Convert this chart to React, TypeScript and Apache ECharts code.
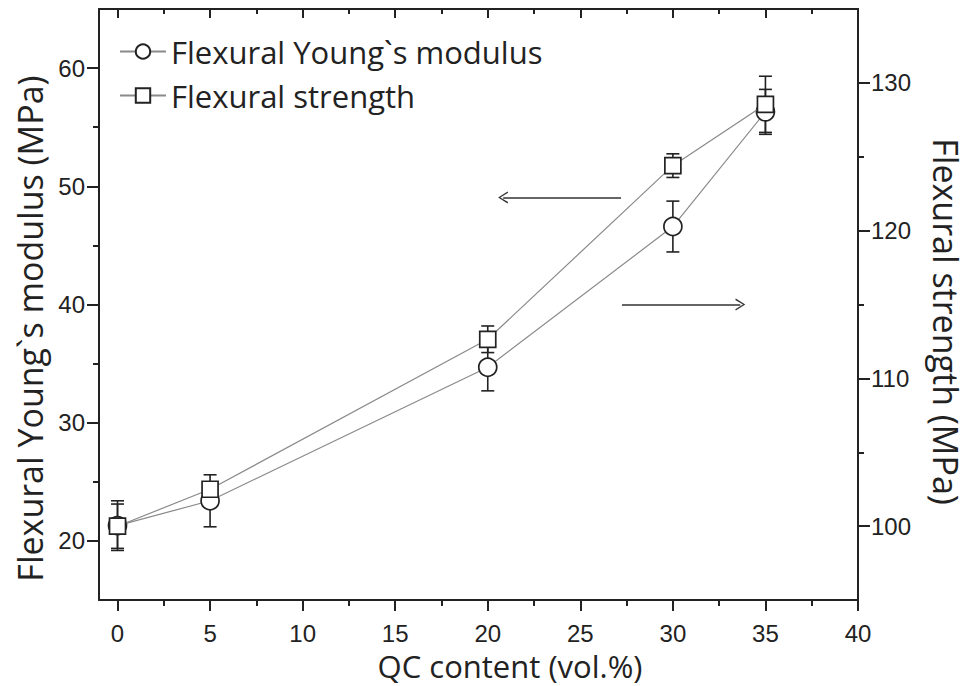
import React, { useEffect, useRef } from "react";
import * as echarts from "echarts";

// ---- data ----
const qcContent = [0, 5, 20, 30, 35];
const youngModulus = [21.3, 23.4, 34.7, 46.6, 56.3];
const youngModulusErr = [2.1, 2.2, 2.0, 2.15, 1.9];
const flexStrength = [100.0, 102.5, 112.65, 124.4, 128.55];
const flexStrengthErr = [1.5, 0.5, 0.9, 0.8, 1.9];

const xMajorTicks = [0, 5, 10, 15, 20, 25, 30, 35, 40];
const xMinorTicks = [2.5, 7.5, 12.5, 17.5, 22.5, 27.5, 32.5, 37.5];
const yLeftMajorTicks = [20, 30, 40, 50, 60];
const yLeftMinorTicks = [25, 35, 45, 55];
const yRightMajorTicks = [100, 110, 120, 130];
const yRightMinorTicks = [105, 115, 125];

// arrows (data coordinates on the left axis): [xStart, xEnd, y]
const leftArrow = [27.2, 20.83, 49.06];
const rightArrow = [27.25, 33.64, 40.0];

const X_MIN = -1, X_MAX = 40;
const YL_MIN = 15, YL_MAX = 65;
const YR_MIN = 95, YR_MAX = 135;

const INK = "#222";
const LABEL_FONT = "'Liberation Sans', Arial, sans-serif";
const NAME_FONT = "'Open Sans', 'Noto Sans', sans-serif";

const chevron = "path://M0,10 L6,0 L12,10 L10.6,10.6 L6,2.4 L1.4,10.6 Z";

function errorRender(params: any, api: any) {
  const x = api.value(0);
  const y = api.value(1);
  const e = api.value(2);
  const hi = api.coord([x, y + e]);
  const lo = api.coord([x, y - e]);
  const hw = 6.5;
  const style = { stroke: INK, lineWidth: 1.6 };
  return {
    type: "group",
    children: [
      { type: "line", shape: { x1: hi[0], y1: hi[1], x2: lo[0], y2: lo[1] }, style },
      { type: "line", shape: { x1: hi[0] - hw, y1: hi[1], x2: hi[0] + hw, y2: hi[1] }, style },
      { type: "line", shape: { x1: lo[0] - hw, y1: lo[1], x2: lo[0] + hw, y2: lo[1] }, style },
    ],
  };
}

export default function App() {
  const ref = useRef<HTMLDivElement>(null);
  useEffect(() => {
    if (!ref.current) return;
    const chart = echarts.init(ref.current, null, { renderer: "svg" });

    const lineAxis = { show: true, onZero: false, lineStyle: { color: INK, width: 2 } };
    const noLine = { show: false, onZero: false };

    const option: any = {
      animation: false,
      backgroundColor: "#fff",
      grid: { left: 99, right: 114, top: 9, bottom: 80, containLabel: false },
      legend: {
        orient: "vertical",
        left: 114,
        top: 31,
        itemWidth: 46,
        itemHeight: 18,
        itemGap: 13,
        textStyle: { fontFamily: NAME_FONT, fontSize: 31, color: INK },
        data: ["Flexural Young`s modulus", "Flexural strength"],
      },
      xAxis: [
        {
          type: "value", position: "bottom", min: X_MIN, max: X_MAX,
          axisLine: lineAxis,
          axisTick: { show: true, inside: false, length: 11, customValues: xMajorTicks, lineStyle: { color: INK, width: 2 } },
          axisLabel: { show: true, customValues: xMajorTicks, margin: 21, fontFamily: LABEL_FONT, fontSize: 24, color: INK },
          splitLine: { show: false },
          name: "QC content (vol.%)", nameLocation: "middle", nameGap: 39,
          nameTextStyle: { fontFamily: NAME_FONT, fontSize: 31, color: INK, padding: [0, 0, 0, 63] },
        },
        {
          type: "value", position: "bottom", min: X_MIN, max: X_MAX,
          axisLine: noLine,
          axisTick: { show: true, inside: false, length: 6, customValues: xMinorTicks, lineStyle: { color: INK, width: 2 } },
          axisLabel: { show: false }, splitLine: { show: false },
        },
        {
          type: "value", position: "top", min: X_MIN, max: X_MAX,
          axisLine: lineAxis,
          axisTick: { show: true, inside: true, length: 9, customValues: xMajorTicks, lineStyle: { color: INK, width: 2 } },
          axisLabel: { show: false }, splitLine: { show: false },
        },
        {
          type: "value", position: "top", min: X_MIN, max: X_MAX,
          axisLine: noLine,
          axisTick: { show: true, inside: true, length: 5, customValues: xMinorTicks, lineStyle: { color: INK, width: 2 } },
          axisLabel: { show: false }, splitLine: { show: false },
        },
      ],
      yAxis: [
        {
          type: "value", position: "left", min: YL_MIN, max: YL_MAX,
          axisLine: lineAxis,
          axisTick: { show: true, inside: false, length: 12, customValues: yLeftMajorTicks, lineStyle: { color: INK, width: 2 } },
          axisLabel: { show: true, customValues: yLeftMajorTicks, margin: 14, fontFamily: LABEL_FONT, fontSize: 24, color: INK },
          splitLine: { show: false },
          name: "Flexural Young`s modulus (MPa)", nameLocation: "middle", nameGap: 51, nameRotate: 90,
          nameTextStyle: { fontFamily: NAME_FONT, fontSize: 34, color: INK, padding: [0, 48, 0, 0] },
        },
        {
          type: "value", position: "left", min: YL_MIN, max: YL_MAX,
          axisLine: noLine,
          axisTick: { show: true, inside: false, length: 6, customValues: yLeftMinorTicks, lineStyle: { color: INK, width: 2 } },
          axisLabel: { show: false }, splitLine: { show: false },
        },
        {
          type: "value", position: "right", min: YR_MIN, max: YR_MAX,
          axisLine: lineAxis,
          axisTick: { show: true, inside: false, length: 12, customValues: yRightMajorTicks, lineStyle: { color: INK, width: 2 } },
          axisLabel: { show: true, customValues: yRightMajorTicks, margin: 13, fontFamily: LABEL_FONT, fontSize: 24, color: INK },
          splitLine: { show: false },
          name: "Flexural strength (MPa)", nameLocation: "middle", nameGap: 71, nameRotate: -90,
          nameTextStyle: { fontFamily: NAME_FONT, fontSize: 34, color: INK, padding: [0, 0, 0, 34] },
        },
        {
          type: "value", position: "right", min: YR_MIN, max: YR_MAX,
          axisLine: noLine,
          axisTick: { show: true, inside: false, length: 6, customValues: yRightMinorTicks, lineStyle: { color: INK, width: 2 } },
          axisLabel: { show: false }, splitLine: { show: false },
        },
      ],
      series: [
        {
          type: "custom", name: "modulusErr", xAxisIndex: 0, yAxisIndex: 0, z: 1,
          renderItem: errorRender,
          encode: { x: 0, y: 1 },
          data: qcContent.map((x, i) => [x, youngModulus[i], youngModulusErr[i]]),
          silent: true,
        },
        {
          type: "custom", name: "strengthErr", xAxisIndex: 0, yAxisIndex: 2, z: 1,
          renderItem: errorRender,
          encode: { x: 0, y: 1 },
          data: qcContent.map((x, i) => [x, flexStrength[i], flexStrengthErr[i]]),
          silent: true,
        },
        {
          type: "line", name: "Flexural Young`s modulus", xAxisIndex: 0, yAxisIndex: 0, z: 3,
          data: qcContent.map((x, i) => [x, youngModulus[i]]),
          symbol: "circle", symbolSize: 18,
          lineStyle: { color: "#8a8a8a", width: 1.2 },
          itemStyle: { color: "#fff", borderColor: INK, borderWidth: 1.7 },
          markLine: {
            silent: true,
            symbol: ["none", chevron],
            symbolSize: [12, 10],
            label: { show: false },
            lineStyle: { color: "#333", width: 1.6, type: "solid" },
            data: [
              [{ coord: [leftArrow[0], leftArrow[2]] }, { coord: [leftArrow[1], leftArrow[2]] }],
              [{ coord: [rightArrow[0], rightArrow[2]] }, { coord: [rightArrow[1], rightArrow[2]] }],
            ],
          },
        },
        {
          type: "line", name: "Flexural strength", xAxisIndex: 0, yAxisIndex: 2, z: 4,
          data: qcContent.map((x, i) => [x, flexStrength[i]]),
          symbol: "rect", symbolSize: 16,
          lineStyle: { color: "#8a8a8a", width: 1.2 },
          itemStyle: { color: "#fff", borderColor: INK, borderWidth: 1.7 },
        },
      ],
    };
    chart.setOption(option);
    return () => chart.dispose();
  }, []);
  return <div ref={ref} style={{ width: 972, height: 686, position: "absolute", left: 0, top: 0 }} />;
}
